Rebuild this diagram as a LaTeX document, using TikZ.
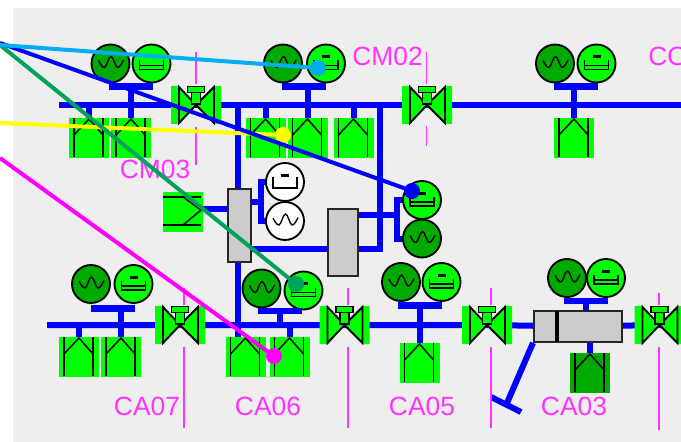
\documentclass[tikz,border=0pt]{standalone}
\usepackage{fontspec}
\setmainfont{Liberation Sans}
\usetikzlibrary{backgrounds}
\definecolor{panel}{RGB}{238,238,238}
\definecolor{lime}{RGB}{0,255,0}
\definecolor{dkgreen}{RGB}{0,170,0}
\definecolor{graybox}{RGB}{204,204,204}
\definecolor{tagpink}{RGB}{255,51,255}
\definecolor{skyptr}{RGB}{0,174,239}
\definecolor{greenptr}{RGB}{0,163,90}
\definecolor{magptr}{RGB}{255,0,255}
\definecolor{yelptr}{RGB}{255,255,0}
\definecolor{bluebus}{RGB}{0,0,255}
\tikzset{
  bus/.style={draw=bluebus,line width=4.5pt},
  busbar/.style={fill=bluebus,draw=none,minimum width=33pt,minimum height=4.8pt,inner sep=0pt},
  ink/.style={draw=black,line width=1.4pt},
  disc/.style={circle,draw=black,line width=1.4pt,minimum size=28.5pt,inner sep=0pt},
  graybody/.style={rectangle,fill=graybox,draw=black!85,line width=1.5pt,inner sep=0pt},
  tag/.style={text=tagpink,font=\fontsize{19.8}{21}\selectfont,inner sep=0pt},
  tick/.style={draw=tagpink,line width=1.1pt},
  ptr/.style={line width=3pt},
  dot/.style={circle,minimum size=12pt,inner sep=0pt},
  pics/motor/.style={code={
    \node[disc,fill=#1] (-n) {};
    \draw[ink,line width=1pt] plot[smooth,tension=.7] coordinates {(-12,-3) (-6,4) (0.5,-7) (7,4) (13,-3.5)};
  }},
  pics/panelA/.style={code={
    \node[disc,fill=lime] (-n) {};
    \fill[black] (-4,-8.5) rectangle (4,-5.5);
    \draw[ink,line width=1.2pt] (-12,-3) -- (-12,6) -- (12,6) -- (12,-3);
    \draw[ink,line width=1.2pt] (-12,2) -- (12,2);
  }},
  pics/panelW/.style={code={
    \node[disc,fill=white] (-n) {};
    \fill[black] (-4,-8.5) rectangle (4,-5.5);
    \draw[ink,line width=1.2pt] (-12,-5) -- (-12,6) -- (12,6) -- (12,-5);
  }},
  pics/feeder/.style={code={
    \node[fill=#1,draw=none,minimum width=30pt,minimum height=30pt,inner sep=0pt] (-n) {};
    \draw[ink] (-15,-20) -- (-15,19) (14,-20) -- (14,19);
    \draw[ink,line width=1.1pt] (-15,-3) -- (0,-19) -- (14,-3);
  }},
  pics/feederR/.style={code={
    \node[fill=lime,draw=none,minimum width=30pt,minimum height=30pt,inner sep=0pt] (-n) {};
    \draw[ink] (-20,-15) -- (18,-15) (-20,13) -- (18,13);
    \draw[ink,line width=1.1pt] (0,-15) -- (18,-2) -- (0,13);
  }},
  pics/valve/.style={code={
    \node[minimum width=37.5pt,minimum height=28.5pt,inner sep=0pt] (-n) {};
    \fill[lime] (-25,-19) rectangle (-17,19) (17,-19) rectangle (25,19);
    \draw[ink,fill=lime,line join=miter] (-17,-18) -- (0,0) -- (-17,18) -- cycle;
    \draw[ink,fill=lime,line join=miter] (18,-18) -- (0,0) -- (18,18) -- cycle;
    \draw[ink,fill=lime,line width=.9pt] (-4.5,-13) rectangle (4.5,-1);
    \draw[ink,fill=lime] (-8.5,-18.5) rectangle (8.5,-12.5);
    \fill[lime] (-3.8,-12.4) rectangle (3.8,-2);
  }},
}
\begin{document}
\begin{tikzpicture}[x=.75pt,y=-.75pt]
\useasboundingbox (0,0) rectangle (681,442);

% junctions and free ends
\coordinate (topW) at (59,105);
\coordinate (topE) at (681,105);
\coordinate (botW) at (47,325);
\coordinate (botE) at (681,325);
\coordinate (jL) at (238,105);
\coordinate (jR) at (380,105);
\coordinate (jLb) at (238,325);

% top row
\pic (m1) at (110.5,63.5) {motor=dkgreen};
\pic (d1) at (151.5,63.5) {panelA};
\node[busbar] (b1) at (131,86.5) {};
\pic (f1) at (89,138) {feeder=lime};
\pic (f2) at (131,138) {feeder=lime};
\pic (v1) at (196,105) {valve};

\pic (m2) at (283,63.5) {motor=dkgreen};
\pic (d2) at (326,63.5) {panelA};
\node[busbar] (b2) at (303.5,86.5) {};
\pic (f3) at (265.5,138) {feeder=lime};
\pic (f4) at (307.5,138) {feeder=lime};
\pic (f5) at (353.5,138) {feeder=lime};
\pic (v2) at (427,105) {valve};

\pic (m3) at (555,63.5) {motor=dkgreen};
\pic (d3) at (596.5,63.5) {panelA};
\node[busbar] (b3) at (576,86.5) {};
\pic (f6) at (574,138) {feeder=lime};

% centre
\node[graybody,minimum width=17pt,minimum height=54.5pt] (g1) at (239.5,225.5) {};
\node[graybody,minimum width=22pt,minimum height=50pt] (g2) at (343,242.5) {};
\pic (lb) at (183,212) {feederR};
\pic (dw) at (285,182) {panelW};
\pic (mw) at (285,221) {motor=white};
\pic (d4) at (422,200) {panelA};
\pic (m4) at (422,238.5) {motor=dkgreen};
\coordinate (jA) at (260.5,202);
\coordinate (jB) at (396.5,215);
\coordinate (jC) at (380,249);
\coordinate (jD) at (228,209);

% bottom row
\pic (m5) at (91,284) {motor=dkgreen};
\pic (d5) at (133.5,284) {panelA};
\node[busbar] (b5) at (113,308.5) {};
\pic (f7) at (79,357) {feeder=lime};
\pic (f8) at (121,357) {feeder=lime};
\pic (v3) at (180,325) {valve};

\pic (m6) at (261.5,288.5) {motor=dkgreen};
\pic (d6) at (303.5,290.5) {panelA};
\node[busbar] (b6) at (279.5,311) {};
\pic (f9) at (245.5,357) {feeder=lime};
\pic (f10) at (289.5,357) {feeder=lime};
\pic (v4) at (344.5,325) {valve};

\pic (m7) at (401,282) {motor=dkgreen};
\pic (d7) at (441.5,282) {panelA};
\node[busbar] (b7) at (420,305.5) {};
\pic (f11) at (419.5,363) {feeder=lime};
\pic (v5) at (487,325) {valve};

\pic (m8) at (567,278) {motor=dkgreen};
\pic (d8) at (606,278) {panelA};
\node[busbar] (b8) at (586,301) {};
\node[graybody,minimum width=66pt,minimum height=23pt] (g3) at (578,326.5) {};
\draw[ink,line width=2.4pt] (557,311) -- (557,342);
\pic (f12) at (590,373) {feeder=dkgreen};
\pic (v6) at (659.5,325) {valve};
\coordinate (tA) at (507,403);
\coordinate (tL) at (491,397);
\coordinate (tR) at (521,412);

% labels
\node[tag] (cm02) at (387.5,56) {CM02};
\node[tag] (cm03) at (155,169.5) {CM03};
\node[tag,anchor=west] (cc) at (648,56) {CO};
\node[tag] (ca07) at (147,406) {CA07};
\node[tag] (ca06) at (268,406) {CA06};
\node[tag] (ca05) at (422,406) {CA05};
\node[tag] (ca03) at (574,406) {CA03};

% label ticks
\draw[tick] (196,52) -- (196,84) (196,127) -- (196,165);
\draw[tick] (426.5,52) -- (426.5,84) (426.5,126) -- (426.5,146);
\draw[tick] (184,288) -- (184,305) (184,347) -- (184,428);
\draw[tick] (348,288) -- (348,305) (348,347) -- (348,428);
\draw[tick] (491,288) -- (491,305) (491,347) -- (491,428);
\draw[tick] (659,293) -- (659,305) (659,347) -- (659,430);

\begin{scope}[on background layer]
  \fill[panel] (13,8) rectangle (681,442);
  % main buses
  \draw[bus] (topW) -- (v1-n.center) -- (v2-n.center) -- (topE);
  \draw[bus] (botW) -- (v3-n.center) -- (v4-n.center) -- (v5-n.center) -- (g3.center) -- (v6-n.center) -- (botE);
  % top row stems
  \draw[bus] (f1-n.center |- topW) -- (f1-n.north);
  \draw[bus] (f2-n.north) -- (f2-n.north |- b1.center);
  \draw[bus] (f3-n.center |- topW) -- (f3-n.north);
  \draw[bus] (f4-n.north) -- (f4-n.north |- b2.center);
  \draw[bus] (f5-n.center |- topW) -- (f5-n.north);
  \draw[bus] (f6-n.north) -- (f6-n.north |- b3.center);
  % centre
  \draw[bus] (jL) -- (jL |- g1.north);
  \draw[bus] (jR) -- (jC) -- (g2.south west |- jC);
  \draw[bus] (g1.east |- jC) -- (g2.west |- jC);
  \draw[bus] (g1.south -| jL) -- (jLb);
  \draw[bus] (jLb) -- (jLb |- f9-n.north);
  \draw[bus] (g1.east |- jA) -- (jA);
  \draw[bus,line join=miter] (dw-n.center) -- (jA |- dw-n.center) -- (jA |- mw-n.center) -- (mw-n.center);
  \draw[bus] (g2.east |- jB) -- (jB);
  \draw[bus,line join=miter] (d4-n.center) -- (jB |- d4-n.center) -- (jB |- m4-n.center) -- (m4-n.center);
  \draw[bus] (lb-n.center |- jD) -- (jD);
  % bottom stems
  \draw[bus] (f7-n.center |- botW) -- (f7-n.north);
  \draw[bus] (f8-n.north) -- (f8-n.north |- b5.center);
  \draw[bus] (b6.center) -- (b6.center |- botW);
  \draw[bus] (f10-n.center |- botW) -- (f10-n.north);
  \draw[bus] (f11-n.north) -- (f11-n.north |- b7.center);
  \draw[bus] (b8.center) -- (b8.center |- g3.north);
  \draw[bus] (f12-n.north) -- (f12-n.north |- g3.south);
  \draw[bus] (g3.south west) -- (tA);
  \draw[bus] (tL) -- (tR);
\end{scope}

% leader lines
\coordinate (sMag) at (0,158);
\coordinate (sYel) at (0,123);
\coordinate (sGrn) at (0,45);
\coordinate (sBlu) at (0,43);
\coordinate (sSky) at (0,45);
\node[dot,fill=magptr] (dMag) at (274,356) {};
\node[dot,fill=yelptr] (dYel) at (283,135) {};
\node[dot,fill=greenptr] (dGrn) at (296,284) {};
\node[dot,fill=bluebus] (dBlu) at (412,191) {};
\node[dot,fill=skyptr] (dSky) at (318,68) {};
\draw[ptr,magptr] (sMag) -- (dMag.center);
\draw[ptr,yelptr] (sYel) -- (dYel.center);
\draw[ptr,greenptr] (sGrn) -- (dGrn.center);
\draw[ptr,bluebus] (sBlu) -- (dBlu.center);
\draw[ptr,skyptr] (sSky) -- (dSky.center);
\end{tikzpicture}
\end{document}
